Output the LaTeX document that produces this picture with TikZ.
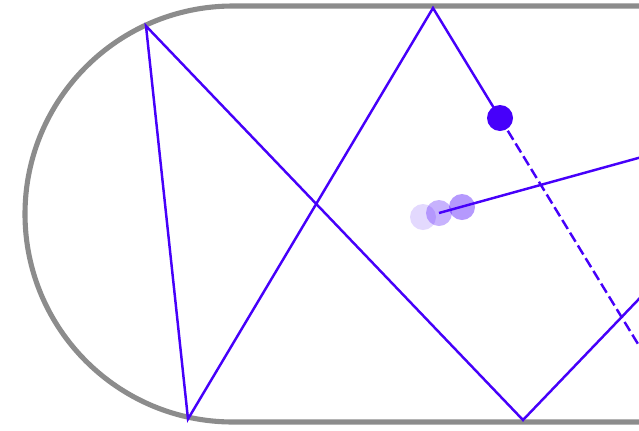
\documentclass[tikz,border=0pt]{standalone}
\usepackage{tikz}
\usetikzlibrary{arrows.meta}

\definecolor{trackblue}{RGB}{70,0,250}
\definecolor{wallgray}{RGB}{140,140,140}

\begin{document}
\begin{tikzpicture}[
        x=0.02cm, y=-0.02cm,
        wall/.style={
            draw=wallgray,
            line width=2.9pt
        },
        track/.style={
            draw=trackblue,
            line width=1.4pt
        },
        ghost/.style={
            track,
            dash pattern=on 6pt off 2.5pt
        },
        ball/.style={
            fill=trackblue
        }
    ]

    \useasboundingbox (0,0) rectangle (639,430);
    \clip (0,0) rectangle (639,430);

    % Wall
    \draw[wall] (660,6) -- (233,6) arc[start angle=270, end angle=90, radius=208] -- (660,422);

    % Bounce points
    \coordinate (b1) at (146,26);
    \coordinate (b2) at (188,419);
    \coordinate (b3) at (433,8);
    \coordinate (b4) at (523,420);
    \coordinate (b5) at (660,277);
    \coordinate (ball) at (500,118);
    \coordinate (gone) at (660,380);
    \coordinate (s1) at (423,217);
    \coordinate (s2) at (439,213);
    \coordinate (s3) at (462,207);
    \coordinate (far) at (660,152);

    % Trajectories
    \draw[track] (b5) -- (b4) -- (b1) -- (b2) -- (b3) -- (ball);
    \draw[ghost] (ball) -- (gone);

    % Fading ball
    \fill[ball, opacity=0.15] (s1) circle[radius=13];
    \fill[ball, opacity=0.3] (s2) circle[radius=13];
    \fill[ball, opacity=0.4] (s3) circle[radius=13];
    \draw[track] (s2) -- (far);

    % Ball
    \fill[ball] (ball) circle[radius=13];

\end{tikzpicture}
\end{document}
